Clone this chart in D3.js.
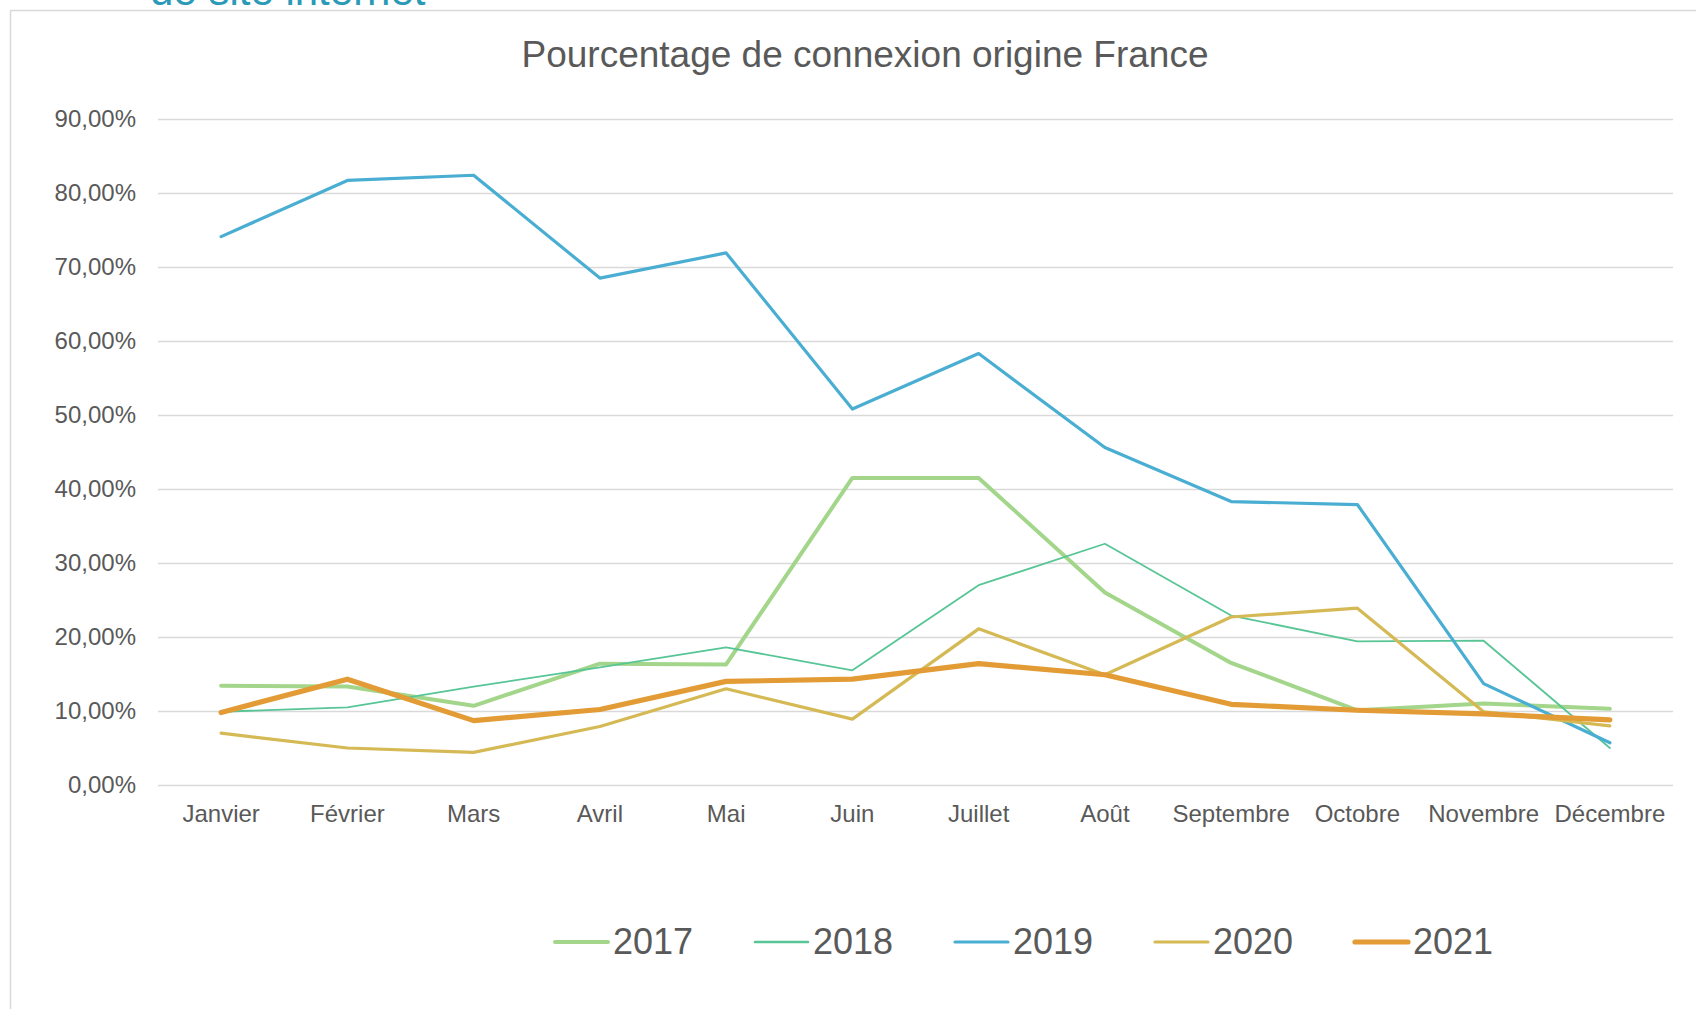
<!DOCTYPE html>
<html>
<head>
<meta charset="utf-8">
<script src="https://cdnjs.cloudflare.com/ajax/libs/d3/7.8.5/d3.min.js"></script>
<style>
    html, body { margin: 0; padding: 0; background: #fff; }
    .svg-container { width: 1696px; height: 1009px; overflow: hidden; }
    text { font-family: "Liberation Sans", Arial, sans-serif; fill: #595959; }
</style>
</head>
<body>
<div class="svg-container"></div>
<script>
// months on the x axis
var months = ["Janvier", "Février", "Mars", "Avril", "Mai", "Juin",
              "Juillet", "Août", "Septembre", "Octobre", "Novembre", "Décembre"];

// y axis ticks (fractions)
var yTicks = [0, 0.1, 0.2, 0.3, 0.4, 0.5, 0.6, 0.7, 0.8, 0.9];

// series, one per year
var years = ["2017", "2018", "2019", "2020", "2021"];
var values2017 = [0.134, 0.133, 0.107, 0.164, 0.163, 0.415, 0.415, 0.260, 0.165, 0.101, 0.110, 0.103];
var values2018 = [0.099, 0.105, 0.133, 0.159, 0.186, 0.155, 0.270, 0.326, 0.229, 0.194, 0.195, 0.050];
var values2019 = [0.741, 0.817, 0.824, 0.685, 0.719, 0.508, 0.583, 0.456, 0.383, 0.379, 0.137, 0.057];
var values2020 = [0.070, 0.050, 0.044, 0.079, 0.130, 0.089, 0.211, 0.149, 0.227, 0.239, 0.099, 0.080];
var values2021 = [0.098, 0.143, 0.087, 0.102, 0.140, 0.143, 0.164, 0.149, 0.109, 0.101, 0.096, 0.088];

chart = (function() {
    /* =================== private vars ================= */
    var svg = null;
    var W = 1696, H = 1009;
    var plot = { left: 158, right: 1673, top: 119, bottom: 785 };

    var styles = {
        "2017": { color: "#a3d68a", width: 4 },
        "2018": { color: "#58c596", width: 1.8 },
        "2019": { color: "#4aaed3", width: 3.2 },
        "2020": { color: "#d5b954", width: 3.2 },
        "2021": { color: "#e39b35", width: 5.2 }
    };

    var fr = d3.formatLocale({ decimal: ",", thousands: " ", grouping: [3], currency: ["", " €"] });
    var pct = fr.format(".2%");

    function cacheDom() {
        svg = d3.select(".svg-container").append("svg")
                .attr("width", W)
                .attr("height", H);
    }

    function drawFrame() {
        // heading above the chart frame, cut by the page top in the source
        svg.append("text")
            .attr("x", 150)
            .attr("y", 5)
            .style("font-size", "42px")
            .style("fill", "#2a9ab8")
            .text("de site internet");

        svg.append("rect")
            .attr("x", 10.5).attr("y", 10.5)
            .attr("width", W).attr("height", H)
            .attr("fill", "none")
            .attr("stroke", "#d9d9d9")
            .attr("stroke-width", 1.5);

        svg.append("text")
            .attr("x", 865)
            .attr("y", 67)
            .attr("text-anchor", "middle")
            .style("font-size", "37px")
            .text("Pourcentage de connexion origine France");
    }

    function drawChart() {
        var series = [values2017, values2018, values2019, values2020, values2021];

        var x = d3.scaleBand().domain(months).range([plot.left, plot.right]);
        var y = d3.scaleLinear().domain([0, 0.9]).range([plot.bottom, plot.top]);

        // y axis + gridlines
        var yAxis = svg.append("g")
            .attr("transform", "translate(" + plot.left + ",0)")
            .call(d3.axisLeft(y).tickValues(yTicks).tickFormat(pct)
                    .tickSize(-(plot.right - plot.left)).tickPadding(22));
        yAxis.select(".domain").remove();
        yAxis.selectAll("line").attr("stroke", "#d9d9d9").attr("stroke-width", 1.5);
        yAxis.selectAll("text").style("font-size", "24px").attr("fill", "#595959");

        // x axis labels
        var xAxis = svg.append("g")
            .attr("transform", "translate(0," + plot.bottom + ")")
            .call(d3.axisBottom(x).tickSize(0).tickPadding(20));
        xAxis.select(".domain").remove();
        xAxis.selectAll("text").style("font-size", "24px").attr("fill", "#595959");

        var line = d3.line()
            .x(function (d, i) { return x(months[i]) + x.bandwidth() / 2; })
            .y(function (d) { return y(d); });

        svg.append("g").selectAll("path")
            .data(series)
            .enter().append("path")
            .attr("d", line)
            .attr("fill", "none")
            .attr("stroke", function (d, i) { return styles[years[i]].color; })
            .attr("stroke-width", function (d, i) { return styles[years[i]].width; })
            .attr("stroke-linejoin", "round")
            .attr("stroke-linecap", "round");
    }

    function drawLegend() {
        var legend = svg.append("g")
            .attr("transform", "translate(555,942)");

        var item = legend.selectAll("g")
            .data(years)
            .enter().append("g")
            .attr("transform", function (d, i) { return "translate(" + (i * 200) + ",0)"; });

        item.append("line")
            .attr("x1", 0).attr("x2", 53)
            .attr("stroke", function (d) { return styles[d].color; })
            .attr("stroke-width", function (d) { return Math.max(styles[d].width, 2.5); })
            .attr("stroke-linecap", "round");

        item.append("text")
            .attr("x", 58)
            .attr("y", 12)
            .style("font-size", "36px")
            .text(function (d) { return d; });
    }

    function init() {
        cacheDom();
        drawFrame();
        drawChart();
        drawLegend();
    }

    init();
    return {};
})();
</script>
</body>
</html>
